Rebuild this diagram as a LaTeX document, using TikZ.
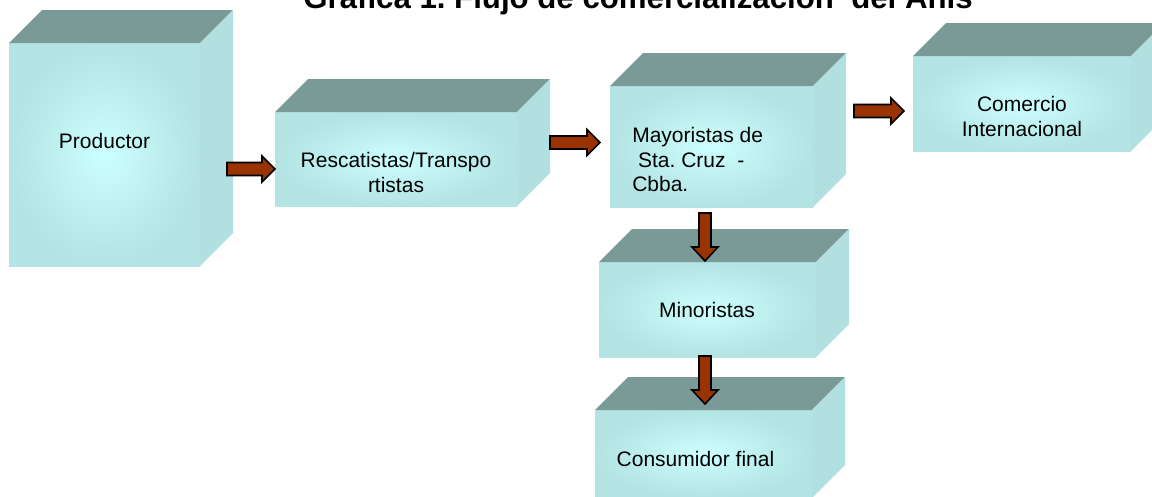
\documentclass[tikz,border=0pt]{standalone}
\usepackage{fontspec}
\setmainfont{Liberation Sans}
\frenchspacing
\definecolor{topc}{HTML}{7A9A97}
\definecolor{fedge}{HTML}{B3E3E3}
\definecolor{fcenter}{HTML}{CCFFFF}
\definecolor{sidec}{HTML}{B2E0E0}
\definecolor{arrowc}{HTML}{993300}
\tikzset{
 front/.style={inner sep=0pt, outer sep=0pt, inner color=fcenter, outer color=fedge},
 lbl/.style={inner sep=0pt, font=\fontsize{15.75pt}{18.4pt}\selectfont, text=black},
 blockarrow/.style={draw=black, line width=1.2pt, fill=arrowc, line join=miter},
}
\newcommand\mycuboid[5]{%
 \node[front, minimum width={(#4-#2)*0.75pt}, minimum height={(#5-#3)*0.75pt}] (#1) at ({(#2+#4)/2},{(#3+#5)/2}) {};
 \fill[topc] (#1.north west) -- ++(33,-33) -- ++({#4-#2},0) -- (#1.north east) -- cycle;
 \fill[sidec] (#1.north east) -- ++(33,-33) -- ++(0,{#5-#3}) -- (#1.south east) -- cycle;
}
% horizontal block arrow: name, x-start, x-tip, y
\newcommand\myharrow[4]{%
 \draw[blockarrow] (#2,{#4-6.5}) -- ({#3-13},{#4-6.5}) -- ({#3-13},{#4-13}) -- (#3,#4)
   -- ({#3-13},{#4+13}) -- ({#3-13},{#4+6.5}) -- (#2,{#4+6.5}) -- cycle;
 \coordinate (#1) at (#3,#4);
}
% vertical block arrow: name, x, y-start, y-tip
\newcommand\myvarrow[4]{%
 \draw[blockarrow] ({#2-6},#3) -- ({#2-6},{#4-14}) -- ({#2-13},{#4-14}) -- (#2,#4)
   -- ({#2+13},{#4-14}) -- ({#2+6},{#4-14}) -- ({#2+6},#3) -- cycle;
 \coordinate (#1) at (#2,#4);
}
\begin{document}
\begin{tikzpicture}[x=0.75pt,y=-0.75pt]
\useasboundingbox (0,0) rectangle (1152,496);
\fill[white] (0,0) rectangle (1152,496);
\clip (0,0) rectangle (1152,496);
\node[font=\bfseries\fontsize{23.4pt}{28pt}\selectfont, anchor=base, inner sep=0pt] (title) at (638,8) {Gráfica 1. Flujo de comercialización~~del Anís};
\mycuboid{prod}{9}{43}{200}{266}
\mycuboid{resc}{275}{112}{517}{206}
\mycuboid{may}{610}{86}{813}{207}
\mycuboid{com}{913}{56}{1131}{151}
\mycuboid{min}{599}{262}{816}{357}
\mycuboid{cons}{595}{410}{812}{498}
\node[lbl, anchor=base] (tprod) at (104.5,148) {Productor};
\node[lbl, anchor=north, align=center] (tresc) at (396,152) {Rescatistas/Transpo\\rtistas};
\node[lbl, anchor=north west, align=left] (tmay) at (632,127) {Mayoristas de\\~Sta. Cruz~~-\\Cbba.};
\node[lbl, anchor=north, align=center] (tcom) at (1022,96) {Comercio\\Internacional};
\node[lbl, anchor=base] (tmin) at (707,317) {Minoristas};
\node[lbl, anchor=base] (tcons) at (695.5,466) {Consumidor final};
\myharrow{a1}{227}{275}{169}
\myharrow{a2}{550}{600}{142.5}
\myharrow{a3}{854}{904}{111}
\myvarrow{a4}{705}{213}{261}
\myvarrow{a5}{705}{356}{404}
\end{tikzpicture}
\end{document}
